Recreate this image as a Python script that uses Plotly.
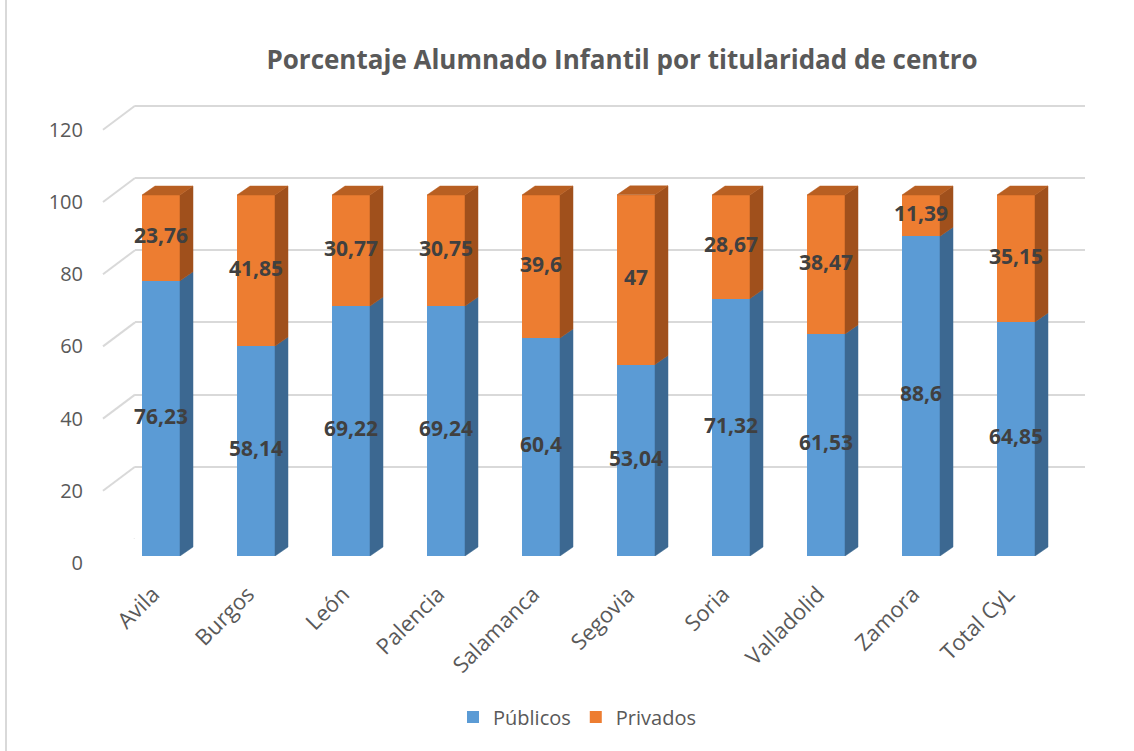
import plotly.graph_objects as go

# ---------------- data ----------------
categories = ["Avila", "Burgos", "León", "Palencia", "Salamanca", "Segovia",
              "Soria", "Valladolid", "Zamora", "Total CyL"]
publicos = [76.23, 58.14, 69.22, 69.24, 60.4, 53.04, 71.32, 61.53, 88.6, 64.85]
privados = [23.76, 41.85, 30.77, 30.75, 39.6, 47, 28.67, 38.47, 11.39, 35.15]
y_ticks = [0, 20, 40, 60, 80, 100, 120]
title_text = "Porcentaje Alumnado Infantil por titularidad de centro"

# ---------------- layout constants (pixels) ----------------
W, H = 1134, 751
Y_MAX = 120
Y_TOP = 121                       # small headroom so the 120 gridline is drawn
# back wall (gridlines)
BACK_X0, BACK_X1 = 135, 1085
BACK_Y0, BACK_Y120 = 539, 105.8
# bar front plane
BAR_X0, BAR_X1 = 113.5, 1063.5
BAR_Y0, BAR_Y120 = 556, 122.8
# front plane (axis labels)
LAB_Y0, LAB_Y120 = 563, 129.8
WALL_DX, WALL_DY = 32, 24          # depth of the side wall
BAR_DX, BAR_DY = 13, 9             # depth of the bars
BAR_W = 0.4

C_BLUE, C_BLUE_SIDE = "#5B9BD5", "#3C6891"
C_ORANGE, C_ORANGE_SIDE, C_ORANGE_TOP = "#ED7D31", "#A0501C", "#B85F22"
TXT = "#595959"
GRID = "#D9D9D9"

def fx(px):
    return px / W

def fy(px):
    return (H - px) / H

def top_px(y0, y120, top):
    return y0 - (y0 - y120) / Y_MAX * top

n = len(categories)
xs = list(range(n))
px_per_x = (BAR_X1 - BAR_X0) / n
px_per_y = (BAR_Y0 - BAR_Y120) / Y_MAX
dx = BAR_DX / px_per_x
dy = BAR_DY / px_per_y

fig = go.Figure()

# invisible traces to create the back-wall subplot and the label axis
fig.add_trace(go.Scatter(x=[0, 1], y=[0, 0], xaxis="x", yaxis="y", mode="lines",
                         line=dict(width=0), hoverinfo="skip", showlegend=False))
fig.add_trace(go.Scatter(x=[0], y=[0], xaxis="x2", yaxis="y3", mode="markers",
                         marker=dict(opacity=0), hoverinfo="skip", showlegend=False))

# front faces
fig.add_trace(go.Bar(x=xs, y=publicos, name="Públicos", width=BAR_W,
                     marker=dict(color=C_BLUE, line=dict(width=0)),
                     xaxis="x2", yaxis="y2"))
fig.add_trace(go.Bar(x=xs, y=privados, name="Privados", width=BAR_W,
                     marker=dict(color=C_ORANGE, line=dict(width=0)),
                     xaxis="x2", yaxis="y2"))

# 3D side / top faces, derived from the data
blue_x, blue_y, or_x, or_y, top_x, top_y = [], [], [], [], [], []
for i in range(n):
    xr = xs[i] + BAR_W / 2
    xl = xs[i] - BAR_W / 2
    p = publicos[i]
    t = publicos[i] + privados[i]
    blue_x += [xr, xr + dx, xr + dx, xr, xr, None]
    blue_y += [0, dy, p + dy, p, 0, None]
    or_x += [xr, xr + dx, xr + dx, xr, xr, None]
    or_y += [p, p + dy, t + dy, t, p, None]
    top_x += [xl, xr, xr + dx, xl + dx, xl, None]
    top_y += [t, t, t + dy, t + dy, t, None]

for fxs, fys, col in [(blue_x, blue_y, C_BLUE_SIDE), (or_x, or_y, C_ORANGE_SIDE),
                      (top_x, top_y, C_ORANGE_TOP)]:
    fig.add_trace(go.Scatter(x=fxs, y=fys, xaxis="x2", yaxis="y2", mode="lines",
                             fill="toself", fillcolor=col,
                             line=dict(color=col, width=0.5),
                             hoverinfo="skip", showlegend=False))

# data labels
lab_x = xs + xs
lab_y = [p / 2 for p in publicos] + [p + q / 2 for p, q in zip(publicos, privados)]
fmt = lambda v: f"{v:g}".replace(".", ",")
lab_t = [fmt(v) for v in publicos] + [fmt(v) for v in privados]
fig.add_trace(go.Scatter(x=lab_x, y=lab_y, xaxis="x2", yaxis="y2", mode="text",
                         text=lab_t, textposition="middle center",
                         textfont=dict(family="Open Sans", size=21, color="#404040",
                                       weight="bold"),
                         hoverinfo="skip", showlegend=False))

# side-wall diagonals at each gridline
shapes = []
for v in y_ticks:
    shapes.append(dict(type="line", xref="paper", yref="y",
                       ysizemode="pixel", yanchor=v,
                       x0=fx(BACK_X0), x1=fx(BACK_X0 - WALL_DX), y0=0, y1=-WALL_DY,
                       line=dict(color=GRID, width=2), layer="below"))
# chart border (left edge)
shapes.append(dict(type="line", xref="paper", yref="paper", x0=fx(6), x1=fx(6),
                   y0=0, y1=1, line=dict(color=GRID, width=2)))

fig.update_layout(
    width=W, height=H,
    margin=dict(l=0, r=0, t=0, b=0, pad=0, autoexpand=False),
    paper_bgcolor="white", plot_bgcolor="rgba(0,0,0,0)",
    barmode="stack",
    font=dict(family="Open Sans", color=TXT),
    title=dict(text="<b>" + title_text + "</b>", x=fx(622), y=fy(60),
               xanchor="center", yanchor="middle",
               font=dict(family="Open Sans", size=26, color=TXT)),
    xaxis=dict(domain=[fx(BACK_X0), fx(BACK_X1)], range=[0, 1], anchor="y",
               visible=False),
    yaxis=dict(domain=[fy(BACK_Y0), fy(top_px(BACK_Y0, BACK_Y120, Y_TOP))],
               range=[0, Y_TOP], anchor="x",
               tickvals=y_ticks, showgrid=True, gridcolor=GRID, gridwidth=2,
               zeroline=False, showticklabels=False, ticks="", automargin=False),
    xaxis2=dict(domain=[fx(BAR_X0), fx(BAR_X1)], range=[-0.5, n - 0.5], anchor="y2",
                tickvals=xs, ticktext=categories, tickangle=-45, ticks="",
                ticklabelstandoff=20, ticklabelshift=-8,
                showgrid=False, zeroline=False, showline=False, automargin=False,
                tickfont=dict(family="Open Sans", size=22, color=TXT)),
    yaxis2=dict(domain=[fy(BAR_Y0), fy(BAR_Y120)], range=[0, Y_MAX], anchor="x2",
                visible=False),
    yaxis3=dict(domain=[fy(LAB_Y0), fy(LAB_Y120)], range=[0, Y_MAX], anchor="free",
                position=fx(83), tickvals=y_ticks, ticks="", showgrid=False,
                zeroline=False, showline=False, automargin=False,
                tickfont=dict(family="Open Sans", size=20, color=TXT)),
    legend=dict(orientation="h", x=fx(577), y=fy(717), xanchor="center",
                yanchor="middle", font=dict(family="Open Sans", size=20, color=TXT),
                traceorder="normal"),
    shapes=shapes,
    showlegend=True,
)

fig.write_html("out.html", config={"displayModeBar": False},
               post_script="document.body.style.margin='0';")
